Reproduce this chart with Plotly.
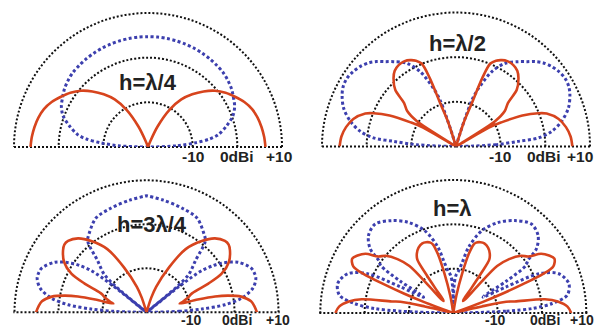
import plotly.graph_objects as go

# ---- data (elevation angle in degrees, gain in dBi), right half; patterns are mirror-symmetric ----
heights = ["h=λ/4", "h=λ/2", "h=3λ/4", "h=λ"]

# red solid curves
red_theta_q = [0, 5, 10, 15, 20, 25, 30, 35, 40, 45, 50, 55, 60, 65, 68, 70, 80, 90]
red_db_q    = [6.3, 6.1, 5.8, 5.4, 4.8, 3.8, 2.5, 1.2, -0.4, -2.4, -4.6, -7.0, -10.4, -15, -18.5, -20, -20, -20]

red_theta_h = [0, 5, 10, 15, 20, 22, 25, 28, 30, 31.5, 33, 36, 40, 43, 47.5, 51, 55, 59, 62, 65, 67.5, 69, 70, 72, 74, 80, 90]
red_db_h    = [6.05, 5.75, 5.0, 3.8, 1.6, -0.1, -3.6, -8.5, -11.5, -20, -9.5, -6.5, -4.8, -1.4, 0.7, 1.8, 2.3, 2.3, 1.9, 1.2, 0.1, -3.6, -10, -14, -20, -20, -20]

red_theta_3q = [0, 3, 6, 9.4, 11.5, 13, 14, 14.6, 16, 19, 22.6, 24.9, 27.2, 31.3, 36.5, 39.5, 42.3, 47.2, 52.2, 58.2, 63.3, 69.3, 72, 75, 80, 90]
red_db_3q    = [5.1, 4.6, 3.9, 1.8, -1.0, -4.0, -8.0, -12.2, -11.5, -10.2, -8.8, -4.5, -0.8, 1.9, 3.6, 4.2, 4.1, 2.9, 0.5, -3.1, -8.5, -13.8, -16.5, -20, -20, -20]

red_theta_1 = [0, 3.2, 6.3, 8.5, 10.6, 12, 13, 14.5, 16, 19, 20.5, 21.5, 22.5, 23.5, 25, 28.3, 31, 34, 37, 40.2, 44, 47, 48, 49, 51, 53, 54, 55, 56, 58.4, 62, 66, 69, 72, 73.5, 75.3, 77.3, 80, 82, 90]
red_db_1    = [6.6, 5.8, 3.7, 0.9, -5.9, -7.8, -13.4, -20, -20, -20, -13, -8, -3, 2.0, 4.9, 5.9, 5.2, 3.9, 1.2, 0.0, -2.5, -5.5, -12, -16, -16.5, -16, -13, -9, -5.5, -4.3, -3.3, -2.8, -2.9, -3.3, -3.9, -6.2, -10.8, -16, -20, -20]

# blue dotted curves
blue_theta_q = [0, 2.5, 5, 7.5, 10, 15, 20, 25, 30, 35, 40, 45, 50, 55, 60, 65, 70, 75, 80, 85, 90]
blue_db_q    = [-20, -13.3, -9.4, -6.0, -4.0, -1.8, 0.2, 1.4, 2.1, 2.8, 3.3, 3.7, 3.9, 4.1, 4.25, 4.4, 4.5, 4.6, 4.65, 4.7, 4.7]

blue_theta_h = [0, 2.6, 4.7, 6, 9, 13.4, 18.9, 24.4, 28, 32, 36, 40, 44, 47, 50, 53.6, 59.4, 64.4, 68.8, 71, 72, 73, 74, 80, 90]
blue_db_h    = [-20, -11.2, -6, -1.4, 1.7, 4.3, 6.6, 8.0, 8.6, 8.8, 8.5, 7.9, 7.0, 6.0, 4.8, 3.6, 1.65, -1.4, -6, -9, -13, -17, -20, -20, -20]

blue_theta_3q = [0, 1.7, 3.4, 5.5, 8.4, 12.7, 17.1, 20, 23, 28.7, 33.2, 35, 37, 38.3, 39.2, 40, 42, 46.6, 50.5, 54.3, 61.8, 71, 81.8, 90]
blue_db_3q    = [-20, -12.6, -7.4, -2.1, 1.8, 4.75, 6.0, 6.1, 5.8, 3.7, 0.4, -1.5, -4.2, -9.6, -20, -11, -7, -3.8, 1.0, 2.25, 4.3, 5.0, 5.8, 6.5]

blue_theta_1 = [0, 2, 3.3, 5.5, 8.9, 14.3, 20.4, 24.6, 26.3, 28, 29, 31, 33.2, 35.2, 37.7, 42.4, 48.7, 56.3, 63.5, 70.8, 76.8, 80, 83, 86, 88.5, 90]
blue_db_1    = [-20, -8, -2.1, 2.4, 6.0, 6.9, 5.4, 1.3, -6.7, -12.4, -12, -6, -0.45, 0.6, 3.7, 5.9, 6.7, 5.05, 2.85, -0.3, -4.7, -8.5, -10.5, -11.5, -14, -20]

ring_ticks = [-10, 0, 10]
ring_labels = ["-10", "0dBi", "+10"]

red_sets = [(red_theta_q, red_db_q), (red_theta_h, red_db_h), (red_theta_3q, red_db_3q), (red_theta_1, red_db_1)]
blue_sets = [(blue_theta_q, blue_db_q), (blue_theta_h, blue_db_h), (blue_theta_3q, blue_db_3q), (blue_theta_1, blue_db_1)]


def full(theta, db):
    th = list(theta) + [180 - t for t in reversed(theta)]
    r = list(db) + list(reversed(db))
    return th, r

# ---- layout geometry (pixels) ----
W, H = 600, 329
R_MIN, R_TOP, R_MAX = -20, 10, 10.25
# center x, center y, radius of the +10 ring
geo = [(148, 147, 134), (456, 146.5, 134), (146.5, 312.3, 132), (453.3, 313, 133)]
title_pos = [(148, 82), (457, 43), (152, 225), (452, 208)]
label_x = [[192.5, 236.5, 279], [500, 544, 580], [191, 237, 278], [495, 545, 582]]
label_y = [156.7, 156.7, 320, 320]
label_size = [15.5, 15.5, 14, 14]

RED = "#d7441d"
BLUE = "#3c3fae"
GRID = "#111111"
FONT = "Liberation Sans, Arial, sans-serif"

fig = go.Figure()
layout = dict(width=W, height=H, margin=dict(l=0, r=0, t=0, b=0),
              paper_bgcolor="white", plot_bgcolor="white", showlegend=False)

annotations = []
for i in range(4):
    sub = "polar" if i == 0 else f"polar{i+1}"
    cx, cy, R10 = geo[i]
    R = R10 * (R_MAX - R_MIN) / (R_TOP - R_MIN)
    dom = dict(x=[(cx - R) / W, (cx + R) / W], y=[1 - cy / H, 1 - (cy - R) / H])
    layout[sub] = dict(
        domain=dom, sector=[0, 180], bgcolor="rgba(0,0,0,0)",
        radialaxis=dict(range=[R_MIN, R_MAX], tickvals=ring_ticks, showticklabels=False, ticks="",
                        showline=False, showgrid=True, gridcolor=GRID, griddash="2px,2px", gridwidth=2),
        angularaxis=dict(tickvals=[0, 180], showticklabels=False, ticks="", showline=False,
                         rotation=0, direction="counterclockwise",
                         showgrid=True, gridcolor=GRID, griddash="2px,2px", gridwidth=2),
    )
    bt, br = full(*blue_sets[i])
    fig.add_trace(go.Scatterpolar(theta=bt, r=br, mode="lines", subplot=sub,
                                  line=dict(color=BLUE, width=3, dash="3px,2.5px", shape="spline", smoothing=0.9),
                                  hoverinfo="skip"))
    rt, rr = full(*red_sets[i])
    fig.add_trace(go.Scatterpolar(theta=rt, r=rr, mode="lines", subplot=sub,
                                  line=dict(color=RED, width=2.6, shape="spline", smoothing=0.9),
                                  hoverinfo="skip"))
    tx, ty = title_pos[i]
    annotations.append(dict(x=tx / W, y=1 - ty / H, xref="paper", yref="paper", showarrow=False,
                            text="<b>" + heights[i] + "</b>", xanchor="center", yanchor="middle",
                            font=dict(family=FONT, size=22, color="#222")))
    for lx, lab in zip(label_x[i], ring_labels):
        annotations.append(dict(x=lx / W, y=1 - label_y[i] / H, xref="paper", yref="paper", showarrow=False,
                                text="<b>" + lab + "</b>", xanchor="center", yanchor="middle",
                                font=dict(family=FONT, size=label_size[i], color="#222")))

layout["annotations"] = annotations
fig.update_layout(**layout)
fig.write_html("out.html", config={"displayModeBar": False},
               post_script="document.body.style.margin='0';document.body.style.overflow='hidden';")
